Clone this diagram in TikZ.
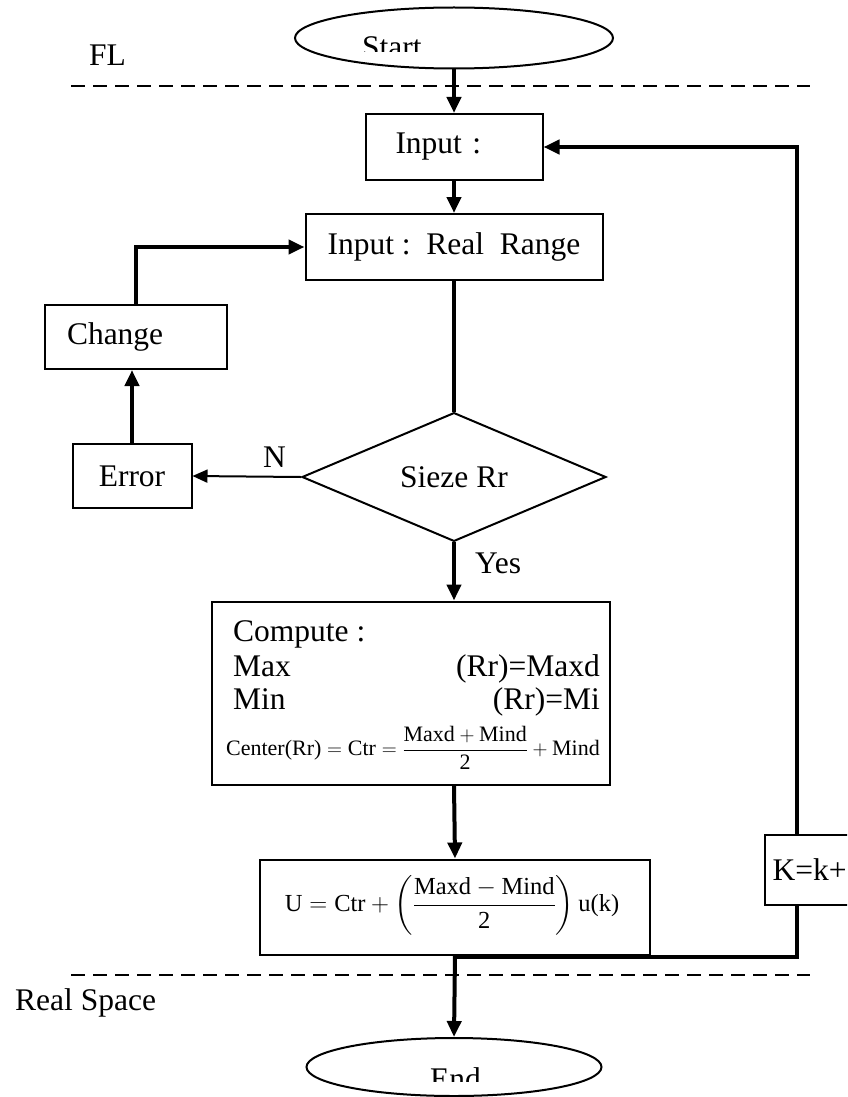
\documentclass[tikz,border=0pt]{standalone}
\usepackage{amsmath}
\usepackage{fontspec}
\setmainfont{Liberation Serif}
\usetikzlibrary{shapes.geometric,arrows.meta}

\tikzset{
  big/.style={font=\fontsize{31.5}{36}\selectfont},
  frm/.style={font=\fontsize{22}{26}\selectfont},
  stepbox/.style={draw, line width=2pt, inner sep=0pt, big},
  terminal/.style={draw, ellipse, line width=2pt, inner sep=0pt},
  flow/.style={line width=4pt, -{Triangle[length=16pt,width=14pt]}},
  plain/.style={line width=4pt},
  thinarr/.style={line width=2pt, -{Triangle[length=15pt,width=13pt]}},
  sepline/.style={line width=2pt, dash pattern=on 14pt off 8pt},
  lbl/.style={big, inner sep=0pt, anchor=base west},
}

\begin{document}
\begin{tikzpicture}[x=1pt,y=-1pt]
\clip (0,0) rectangle (847,1097);

% terminals
\node[terminal, minimum width=318pt, minimum height=61pt] (start) at (454,38) {};
\begin{scope}
  \clip (300,0) rectangle (610,52);
  \node[lbl] (starttxt) at (362,58) {Start};
\end{scope}
\node[terminal, minimum width=295pt, minimum height=58pt] (end) at (454,1067) {};
\begin{scope}
  \clip (310,1040) rectangle (600,1081);
  \node[lbl] (endtxt) at (430,1089) {End};
\end{scope}

% process boxes
\node[stepbox, minimum width=177pt, minimum height=66pt, text width=157pt, align=left, inner xsep=0pt] (inp) at (454,147) {\hspace*{20pt}Input :};
\node[stepbox, minimum width=297pt, minimum height=66pt] (rr) at (454,247) {Input :\ \ Real\ \ Range};
\node[stepbox, minimum width=182pt, minimum height=64pt, text width=160pt, align=left] (chg) at (136,337) {\hspace*{11pt}Change};
\node[stepbox, minimum width=119pt, minimum height=64pt] (err) at (132,476) {Error};
\node[draw, diamond, line width=2pt, inner sep=0pt, minimum width=304pt, minimum height=114pt, big] (dia) at (454,477) {Sieze Rr};
\node[stepbox, minimum width=398pt, minimum height=183pt] (cmp) at (411,693) {};
\node[stepbox, minimum width=390pt, minimum height=95pt] (ub) at (455,907) {};
\node[stepbox, minimum width=95pt, minimum height=70pt, text width=85pt, align=left] (kb) at (812,870) {\hspace*{3pt}K=k+};

% contents of the compute box
\node[lbl] (c1) at (233,641) {Compute :};
\node[lbl] (c2) at (233,676) {Max};
\node[big, inner sep=0pt, anchor=base east] (c3) at (600,676) {(Rr)=Maxd};
\node[lbl] (c4) at (233,709) {Min};
\node[big, inner sep=0pt, anchor=base east] (c5) at (600,709) {(Rr)=Mi};
\node[frm, inner sep=0pt] (c6) at (413,748) {$\text{Center(Rr)} = \text{Ctr} = \dfrac{\text{Maxd} + \text{Mind}}{\text{2}} + \text{Mind}$};
\node[frm, inner sep=0pt, font=\fontsize{24.5}{28}\selectfont] (u1) at (452,905) {$\text{U} = \text{Ctr} + \left(\dfrac{\text{Maxd} - \text{Mind}}{\text{2}}\right)\text{u(k)}$};

% zone separators and their labels
\coordinate (fla) at (71,86);
\coordinate (flb) at (810,86);
\coordinate (rsa) at (71,975);
\coordinate (rsb) at (810,975);
\draw[sepline] (fla) -- (flb);
\draw[sepline] (rsa) -- (rsb);
\node[lbl] (fl) at (89,66) {FL};
\node[lbl] (rs) at (15,1010) {Real Space};

% connectors
\draw[flow] (start.south) -- (inp.north);
\draw[flow] (inp.south) -- (rr.north);
\draw[plain] (rr.south) -- (dia.north);
\draw[thinarr] (dia.west) -- (err.east);
\node[lbl] (nlbl) at (263,467) {N};
\draw[flow] (dia.south) -- (dia.south |- cmp.north);
\node[lbl] (ylbl) at (475,573) {Yes};
\draw[flow] (err.north) -- (err.north |- chg.south);
\draw[flow] (chg.north) |- (rr.west);
\draw[flow] (dia.south |- cmp.south) -- (ub.north);
\draw[flow] (ub.south) -- (end.north);

% loop back through K=k+
\coordinate (loopx) at (797,0);
\coordinate (jn) at (454,957);
\draw[flow] (kb.north -| loopx) |- (inp.east);
\draw[plain] (kb.south -| loopx) |- (jn);
\end{tikzpicture}
\end{document}
